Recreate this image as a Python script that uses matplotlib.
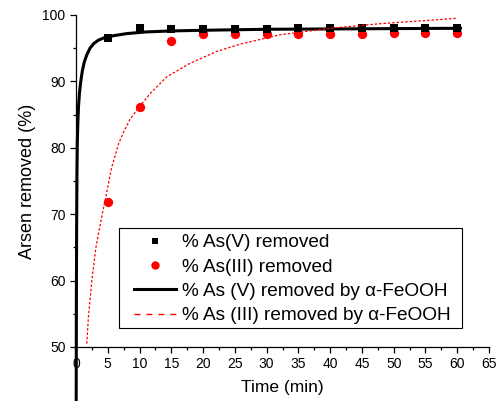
import matplotlib
matplotlib.use("Agg")
import matplotlib.pyplot as plt
from matplotlib.lines import Line2D
from matplotlib.patches import Rectangle
from matplotlib.ticker import MultipleLocator

# ---- data ----
time_min = [5, 10, 15, 20, 25, 30, 35, 40, 45, 50, 55, 60]
as5_removed = [96.6, 98.0, 97.9, 97.9, 97.9, 97.9, 98.0, 98.0, 98.0, 98.0, 98.0, 98.0]
as3_removed = [71.9, 86.1, 96.1, 97.2, 97.2, 97.2, 97.2, 97.2, 97.2, 97.3, 97.3, 97.3]

fit5_t = [0.01, 0.03, 0.06, 0.1, 0.15, 0.21, 0.3, 0.4, 0.55, 0.75, 1.0, 1.3, 1.7,
          2.2, 2.8, 3.5, 4.5, 6, 8, 11, 15, 20, 30, 40, 50, 60.5]
fit5_y = [20, 42, 57, 68, 76, 81, 84, 86.3, 88.3, 90.0, 91.6, 92.9, 94.0,
          95.0, 95.7, 96.2, 96.6, 96.9, 97.2, 97.45, 97.6, 97.7, 97.85, 97.9, 97.95, 98.0]

fit3_t = [1.7, 1.95, 2.5, 3.15, 4.15, 4.7, 5.6, 6.7, 7.5, 8.5, 10, 11.7, 14.3,
          17.9, 22.1, 25.8, 32, 40, 48, 54, 60]
fit3_y = [50.5, 54.5, 60.1, 65.1, 70.1, 72.6, 77.0, 80.6, 82.4, 84.3, 86.2, 88.2, 90.7,
          92.7, 94.5, 95.6, 97.0, 98.0, 98.7, 99.1, 99.5]

labels = ["% As(V) removed", "% As(III) removed",
          "% As (V) removed by \u03b1-FeOOH", "% As (III) removed by \u03b1-FeOOH"]

plt.rcParams["font.family"] = ["Liberation Sans", "DejaVu Sans"]

W, H = 499, 401
fig = plt.figure(figsize=(W / 100, H / 100), dpi=100)
ax = fig.add_axes([76 / W, 54 / H, (489 - 76) / W, (347 - 15) / H])

ax.plot(time_min, as3_removed, "o", color="#ff0000", ms=6.7, mew=0, zorder=2)
ax.plot(time_min, as5_removed, "s", color="black", ms=5.3, mew=0, zorder=3)
ax.plot(fit5_t, fit5_y, "-", color="black", lw=2.2, clip_on=False, zorder=4)
ax.plot(fit3_t, fit3_y, color="#ff0000", lw=0.9, dashes=(2, 1.5), zorder=5)

ax.set_xlim(0, 65)
ax.set_ylim(50, 100)
ax.xaxis.set_major_locator(MultipleLocator(5))
ax.xaxis.set_minor_locator(MultipleLocator(2.5))
ax.yaxis.set_major_locator(MultipleLocator(10))
ax.yaxis.set_minor_locator(MultipleLocator(5))
for s in ["top", "right"]:
    ax.spines[s].set_visible(False)
for s in ["left", "bottom"]:
    ax.spines[s].set_linewidth(0.9)
ax.tick_params(which="major", direction="out", length=4.5, width=0.9, labelsize=10, pad=3)
ax.tick_params(which="minor", direction="out", length=2.5, width=0.9)

ax.set_xlabel("Time (min)", fontsize=12.5, labelpad=6)
ax.set_ylabel("Arsen removed (%)", fontsize=13, labelpad=5)

# legend frame drawn separately
frame = Rectangle((119.3 / W, 1 - 327.7 / H), (462.3 - 119.3) / W, (327.7 - 228.3) / H,
                  transform=fig.transFigure, facecolor="white", edgecolor="black",
                  lw=0.8, clip_on=False, zorder=6)
ax.add_patch(frame)

handles = [
    Line2D([], [], ls="none", marker="s", color="black", ms=5, mew=0),
    Line2D([], [], ls="none", marker="o", color="#ff0000", ms=6, mew=0),
    Line2D([], [], color="black", lw=2.2),
    Line2D([], [], color="#ff0000", lw=1.0, dashes=(4.3, 4.3)),
]
leg = ax.legend(handles, labels, loc="upper left", bbox_to_anchor=(134 / W, 1 - 234 / H),
                bbox_transform=fig.transFigure, borderaxespad=0, borderpad=0, fontsize=13.7,
                frameon=False, handlelength=2.19, handletextpad=0.32, labelspacing=0.37)
leg.set_zorder(7)

fig.savefig("out.png", dpi=100)
